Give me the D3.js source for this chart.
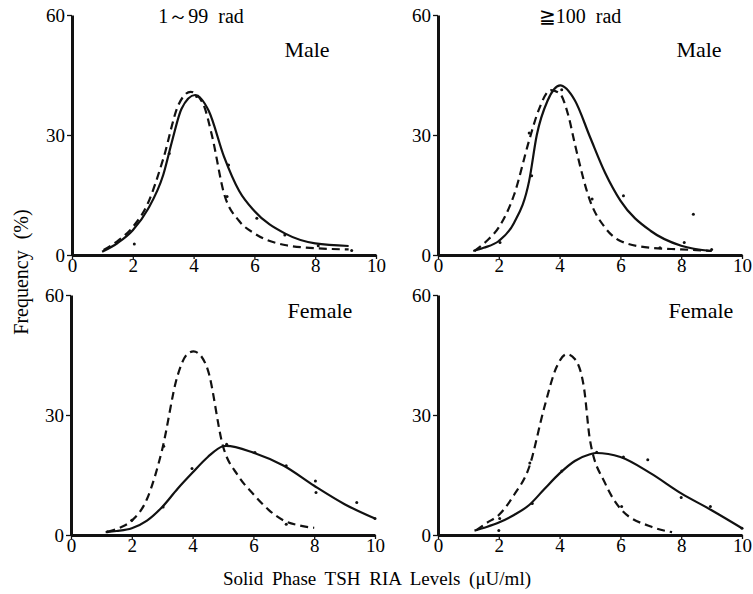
<!DOCTYPE html>
<html><head><meta charset="utf-8">
<script src="https://cdn.jsdelivr.net/npm/d3@7/dist/d3.min.js"></script>
</head>
<body style="margin:0;background:#fff"><svg id="c" width="753" height="594"></svg>
<script>
// ---- data ----
const xTicks = [0,2,4,6,8,10];
const yTicks = [0,30,60];
const doseTitles = ["1\uFF5E99  rad", "\u2267100  rad"];
const sexLabels = ["Male","Male","Female","Female"];

// Top-left: 1~99 rad, Male
const tlSolidX = [0.99,1.5,2,2.5,3,3.3,3.6,4.05,4.5,5,5.5,6,7,8,9.1];
const tlSolidY = [0.8,3,6.2,11.5,20,28.7,36.5,40,36,24.6,16,11,5.4,2.9,2.25];
const tlDashX  = [1.04,1.5,2,2.5,3,3.5,3.9,4.3,4.6,5,5.5,6,7,8,9.1];
const tlDashY  = [1.25,3.5,7,13,24,37.5,40.8,38,30,15.4,8.5,5.4,2.5,1.7,1.4];
const tlDotX   = [2.05,3.2,4.1,5.15,5.1,6.08,7,8.1,9.2];
const tlDotY   = [2.75,25.4,39.6,22.5,14.6,9.2,5,2.3,1.1];

// Top-right: >=100 rad, Male
const trSolidX = [1.16,1.5,2,2.5,3,3.25,3.6,4.02,4.5,5,5.5,6,7,8,9];
const trSolidY = [1,1.8,3.5,8,18.6,30,38.5,42.4,38.7,29.5,20.5,13.6,6,2.3,1];
const trDashX  = [1.2,1.6,2,2.5,3,3.3,3.7,4,4.3,4.5,5,5.5,6,7,8,9];
const trDashY  = [1,3.5,6.9,15,28.7,36,41.2,40.4,34.5,27.8,13.6,6.8,3.5,1.8,1.4,1];
const trDotX   = [2.04,3.08,3.0,4.07,5.07,6.1,7.3,8.1,9,8.4];
const trDotY   = [3.1,19.8,30.5,41.3,14,14.8,1.8,3.1,1.4,10.2];

// Bottom-left: 1~99 rad, Female
const blSolidX = [1.14,1.5,2,2.5,3,3.5,4,4.5,5,5.1,6,7,8,9,10];
const blSolidY = [0.7,1,1.7,3.6,7,11.5,15.6,19.5,22.2,22.3,20.6,17.3,12.3,7.7,4.1];
const blDashX  = [1.2,1.6,2,2.5,3,3.5,3.8,4.03,4.3,4.5,5,5.5,6,6.5,7,7.5,8];
const blDashY  = [0.8,1.8,3.6,9,21.4,39.7,45,45.9,44.5,41.3,22.2,14.8,10.2,6.3,3.6,2.4,1.8];
const blDotX   = [1.2,2,3.03,3.05,3.98,5.12,6.05,7.08,8.04,8.06,9.4,10,7.08];
const blDotY   = [0.8,3.7,7,22.2,16.6,22.7,20.6,17.3,13.5,10.6,8.1,4.1,2.7];

// Bottom-right: >=100 rad, Female
const brSolidX = [1.2,1.6,2,2.5,3,3.5,4,4.5,5,5.2,6,7,8,9,10];
const brSolidY = [1.1,2,3.1,5,7.5,11.5,15.4,18.5,20.2,20.5,19.5,15.4,10.4,6.2,1.7];
const brDashX  = [1.26,1.6,2,2.5,3,3.5,3.9,4.23,4.5,4.8,5,5.5,6,7,7.7];
const brDashY  = [1.2,3,5,10,17,32,42,45.2,44,36.9,23.7,12.9,6.6,2.1,0.7];
const brDotX   = [2,2.03,3.02,3.1,4.07,5.22,6.1,6.9,8,8.96,10,6.04];
const brDotY   = [1.1,4.1,18,7.9,16,20.7,19.5,18.8,9.4,7.1,1.7,7.1];

const panels = [
  {solid:[tlSolidX,tlSolidY], dash:[tlDashX,tlDashY], dots:[tlDotX,tlDotY], title:doseTitles[0], sex:sexLabels[0]},
  {solid:[trSolidX,trSolidY], dash:[trDashX,trDashY], dots:[trDotX,trDotY], title:doseTitles[1], sex:sexLabels[1]},
  {solid:[blSolidX,blSolidY], dash:[blDashX,blDashY], dots:[blDotX,blDotY], title:null, sex:sexLabels[2]},
  {solid:[brSolidX,brSolidY], dash:[brDashX,brDashY], dots:[brDotX,brDotY], title:null, sex:sexLabels[3]},
];

// ---- layout ----
const svg = d3.select("#c");
const lefts = [72,438,71,438];
const tops = [15,15,295,295];
const titleX = [129,142];
const sexX = [235,261,249,263];
const sexY = [42,42,23,23];
const W = 304, H = 240;

panels.forEach((p,i)=>{
  const g = svg.append("g").attr("transform",`translate(${lefts[i]},${tops[i]})`);
  const x = d3.scaleLinear().domain([0,10]).range([0,W]);
  const y = d3.scaleLinear().domain([0,60]).range([H,0]);

  const xa = g.append("g").attr("transform",`translate(0,${H})`)
    .call(d3.axisBottom(x).tickValues(xTicks).tickSize(4).tickPadding(1).tickSizeOuter(0));
  const ya = g.append("g")
    .call(d3.axisLeft(y).tickValues(yTicks).tickSize(5).tickPadding(2).tickSizeOuter(0));
  [xa,ya].forEach(a=>{
    a.select(".domain").attr("stroke","#111").attr("stroke-width",3);
    a.selectAll(".tick line").attr("stroke","#111").attr("stroke-width",1.3);
    a.selectAll(".tick text").style("font-family","'Liberation Serif'").style("font-size","19px");
  });
  xa.selectAll(".tick text").attr("dy","0.63em");
  ya.selectAll(".tick text").attr("dy","0.33em");

  const line = d3.line().x(d=>x(d[0])).y(d=>y(d[1])).curve(d3.curveMonotoneX);
  const sd = p.solid[0].map((v,k)=>[v,p.solid[1][k]]);
  const dd = p.dash[0].map((v,k)=>[v,p.dash[1][k]]);
  g.append("path").attr("d",line(sd)).attr("fill","none").attr("stroke","#111").attr("stroke-width",2.2);
  g.append("path").attr("d",line(dd)).attr("fill","none").attr("stroke","#111").attr("stroke-width",2.2)
    .attr("stroke-dasharray","8,5");
  const pts = p.dots[0].map((v,k)=>[v,p.dots[1][k]]);
  g.selectAll("circle.d").data(pts).enter().append("circle")
    .attr("cx",d=>x(d[0])).attr("cy",d=>y(d[1])).attr("r",1.5).attr("fill","#111");

  if(p.title){
    g.append("text").attr("x",titleX[i]).attr("y",8).attr("text-anchor","middle")
      .style("font-family","'Liberation Serif'").style("font-size","20px").style("white-space","pre").text(p.title);
  }
  g.append("text").attr("x",sexX[i]).attr("y",sexY[i]).attr("text-anchor","middle")
    .style("font-family","'Liberation Serif'").style("font-size","22px").text(p.sex);
});

svg.append("text").attr("transform","translate(28,272) rotate(-90)").attr("text-anchor","middle")
  .style("font-family","'Liberation Serif'").style("font-size","20px").style("word-spacing","6px").text("Frequency (%)");
svg.append("text").attr("x",377).attr("y",585).attr("text-anchor","middle")
  .style("font-family","'Liberation Serif'").style("font-size","19px").style("word-spacing","4px").text("Solid Phase TSH RIA Levels (\u03BCU/ml)");
</script></body></html>
